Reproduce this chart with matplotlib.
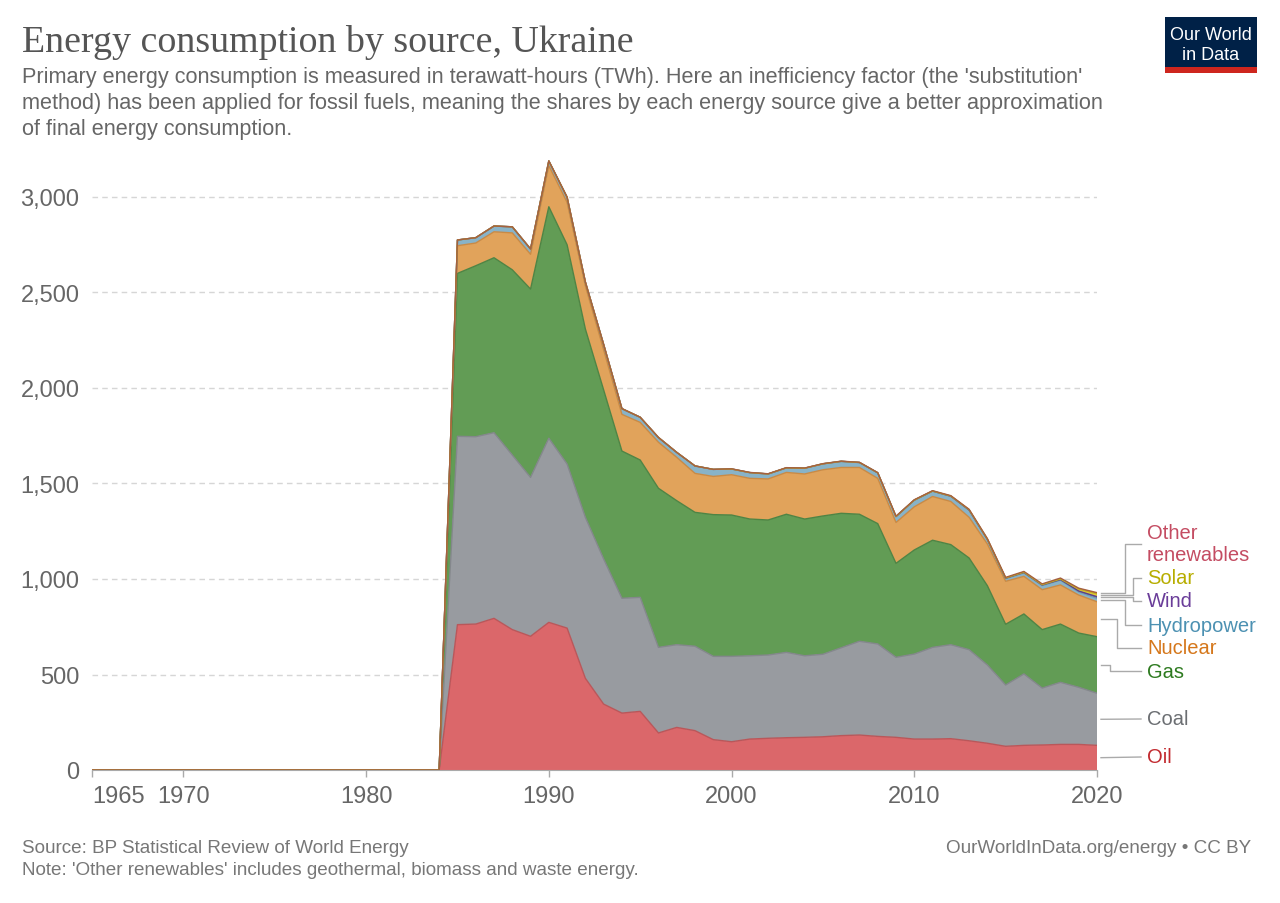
import matplotlib
matplotlib.use("Agg")
import matplotlib.pyplot as plt
from matplotlib.lines import Line2D
from matplotlib.patches import Rectangle
import numpy as np

plt.rcParams['font.family'] = ['Liberation Sans', 'DejaVu Sans']

years = list(range(1965, 2021))
pre = [0] * 20  # 1965-1984

oil = pre + [761, 764, 794, 735, 700, 773, 743, 480, 345, 298, 307, 194, 223, 206, 159,
             148, 162, 166, 169, 171, 174, 180, 183, 176, 171, 162, 162, 164, 153, 140,
             124, 129, 131, 134, 134, 129]
coal = pre + [986, 981, 972, 914, 832, 964, 859, 843, 760, 601, 597, 448, 433, 442, 436,
              447, 436, 436, 447, 427, 432, 460, 491, 484, 419, 445, 480, 492, 477, 410,
              321, 374, 298, 325, 299, 273]
gas = pre + [853, 895, 916, 970, 986, 1212, 1148, 986, 885, 771, 719, 833, 754, 701, 742,
             740, 716, 707, 723, 716, 724, 704, 665, 630, 492, 545, 561, 524, 480, 415,
             318, 314, 306, 305, 284, 296]
nuclear = pre + [145, 119, 136, 193, 182, 215, 222, 226, 210, 192, 197, 241, 227, 204, 200,
                 211, 213, 215, 219, 236, 242, 240, 245, 237, 214, 226, 229, 226, 213, 218,
                 225, 197, 209, 205, 199, 183]
hydro = pre + [30, 28, 30, 32, 28, 25, 27, 20, 28, 30, 27, 25, 26, 39, 37,
               30, 30, 26, 24, 30, 31, 32, 26, 29, 31, 35, 28, 27, 37, 22,
               14, 18, 22, 25, 16, 18]
wind = pre + [0] * 26 + [0.3, 0.6, 1.6, 2.7, 2.5, 2.4, 2.7, 3.0, 5.0, 8.5]
solar = pre + [0] * 26 + [0.1, 0.8, 1.4, 1.2, 1.1, 1.2, 1.8, 3.0, 10.0, 15.0]
other = pre + [0] * 15 + [1, 1, 1, 1, 1, 1, 1, 1, 1, 2, 2, 2, 2, 2, 3, 3, 4, 4, 5, 5, 6]

series_names = ["Oil", "Coal", "Gas", "Nuclear", "Hydropower", "Wind", "Solar", "Other renewables"]
series = [oil, coal, gas, nuclear, hydro, wind, solar, other]
fills = ["#db676a", "#989ba0", "#629c55", "#e1a35b", "#88b3c8", "#7a57a0", "#e3cf3b", "#c5515c"]
edges = ["#b9575a", "#84878c", "#4f8444", "#c98a45", "#6f9db3", "#5e3f86", "#c4b020", "#a5603f"]
label_colors = ["#c22a2f", "#6b6e72", "#2d7a1f", "#d5771b", "#4c91b2", "#6a3d99", "#b7ad00", "#c44c62"]
xtick_years = [1965, 1970, 1980, 1990, 2000, 2010, 2020]
ytick_vals = [0, 500, 1000, 1500, 2000, 2500, 3000]

W, H = 1280, 904
fig = plt.figure(figsize=(W / 100, H / 100), dpi=100)

def fx(x):
    return x / W

def fy(y):
    return 1 - y / H

ax_left, ax_right, ax_bottom = 92, 1097, 771
ymax = 3200
px_per = 0.191
ax_top = ax_bottom - ymax * px_per
ax = fig.add_axes([fx(ax_left), fy(ax_bottom), (ax_right - ax_left) / W, (ax_bottom - ax_top) / H])

ax.stackplot(years, *series, colors=fills, linewidth=0)
cum = np.zeros(len(years))
for vals, ec in zip(series, edges):
    cum = cum + np.array(vals, dtype=float)
    ax.plot(years, cum, color=ec, lw=1.0, zorder=3)

ax.set_xlim(1965, 2020)
ax.set_ylim(0, ymax)
ax.set_yticks(ytick_vals)
ax.set_yticklabels([f"{v:,}" for v in ytick_vals])
ax.set_xticks(xtick_years)
ax.set_xticklabels([str(y) for y in xtick_years])
ax.get_xticklabels()[0].set_horizontalalignment("left")
for v in ytick_vals[1:]:
    ax.axhline(v, color="#d6d6d6", lw=1, ls=(0, (4, 3)), zorder=0)
for s in ["left", "right", "top"]:
    ax.spines[s].set_visible(False)
ax.spines["bottom"].set_color("#aaaaaa")
ax.tick_params(axis="y", length=0, pad=9, labelsize=17, labelcolor="#666666")
ax.tick_params(axis="x", length=5, width=1, color="#aaaaaa", pad=6, labelsize=17, labelcolor="#666666")
ax.set_facecolor("none")

# Labels with connectors
label_y = {"Oil": 758, "Coal": 720, "Gas": 672, "Nuclear": 649, "Hydropower": 626,
           "Wind": 602, "Solar": 579, "Other renewables": 545}
elbow_x = {"Oil": None, "Coal": None, "Gas": 1110, "Nuclear": 1117, "Hydropower": 1125,
           "Wind": 1133, "Solar": 1133, "Other renewables": 1125}
fig.canvas.draw()
inv = fig.transFigure.inverted()
base = 0.0
for name, vals, col in zip(series_names, series, label_colors):
    mid = base + vals[-1] / 2
    base += vals[-1]
    yd = ax.transData.transform((years[-1], mid))[1]
    yf = inv.transform((0, yd))[1]
    ty = fy(label_y[name])
    x0, x1 = fx(1101), fx(1141)
    if elbow_x[name] is None:
        xs, ys = [x0, x1], [yf, ty]
    else:
        ex = fx(elbow_x[name])
        xs, ys = [x0, ex, ex, x1], [yf, yf, ty, ty]
    fig.add_artist(Line2D(xs, ys, color="#aaaaaa", lw=1, transform=fig.transFigure))
    if name == "Other renewables":
        fig.text(fx(1147), fy(534), "Other", color=col, fontsize=14.5, va="center", ha="left")
        fig.text(fx(1147), fy(556), "renewables", color=col, fontsize=14.5, va="center", ha="left")
    else:
        fig.text(fx(1147), ty, name, color=col, fontsize=14.5, va="center", ha="left")

# Title and subtitle
fig.text(fx(22), fy(42), "Energy consumption by source, Ukraine", family=["Liberation Serif"],
         fontsize=27.3, color="#555555", va="center", ha="left")
sub = ["Primary energy consumption is measured in terawatt-hours (TWh). Here an inefficiency factor (the 'substitution'",
       "method) has been applied for fossil fuels, meaning the shares by each energy source give a better approximation",
       "of final energy consumption."]
for i, line in enumerate(sub):
    fig.text(fx(22), fy(77 + 26 * i), line, fontsize=15.6, color="#666666", va="center", ha="left")

# Footer
fig.text(fx(22), fy(849), "Source: BP Statistical Review of World Energy", fontsize=13.6, color="#777777",
         va="center", ha="left")
fig.text(fx(22), fy(871), "Note: 'Other renewables' includes geothermal, biomass and waste energy.", fontsize=13.6,
         color="#777777", va="center", ha="left")
fig.text(fx(1251), fy(849), "OurWorldInData.org/energy • CC BY", fontsize=13.6, color="#777777",
         va="center", ha="right")

# Logo
fig.add_artist(Rectangle((fx(1165), fy(68)), (1257 - 1165) / W, 50 / H, transform=fig.transFigure,
                         facecolor="#002147", edgecolor="none"))
fig.add_artist(Rectangle((fx(1165), fy(74)), (1257 - 1165) / W, 6 / H, transform=fig.transFigure,
                         facecolor="#ce261e", edgecolor="none"))
fig.text(fx(1211), fy(36), "Our World", fontsize=13, color="white", va="center", ha="center")
fig.text(fx(1211), fy(56), "in Data", fontsize=13, color="white", va="center", ha="center")

fig.savefig("out.png", dpi=100, facecolor="white")
